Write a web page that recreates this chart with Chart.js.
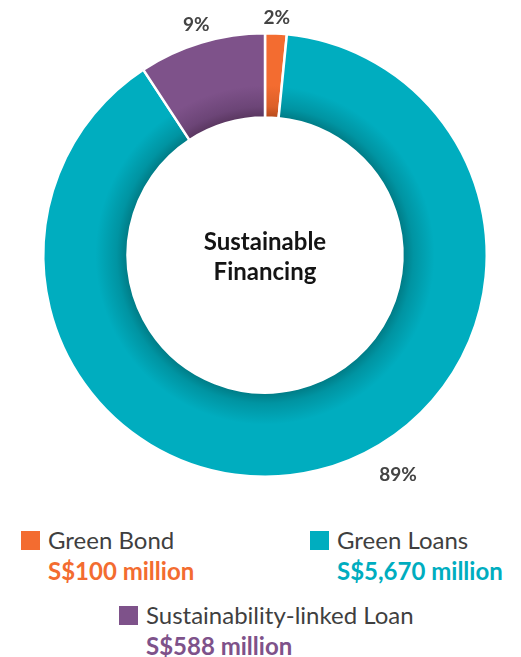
<!DOCTYPE html>
<html>
<head>
<meta charset="utf-8">
<script src="https://cdn.jsdelivr.net/npm/chart.js@4.4.0/dist/chart.umd.min.js"></script>
<style>
  body { margin: 0; background: #fff; font-family: Lato, 'Open Sans', sans-serif; }
  #wrap { position: relative; width: 521px; height: 657px; }
  #chart-box { position: absolute; left: 0; top: 0; width: 521px; height: 500px; }
  .leg { position: absolute; color: #3f3f3f; }
  .leg .sq { position: absolute; width: 19px; height: 19px; }
  .leg .name { position: absolute; white-space: nowrap; font-size: 24px; line-height: 28px; }
  .leg .val { position: absolute; white-space: nowrap; font-size: 24px; line-height: 28px; font-weight: 700; }
</style>
</head>
<body>
<div id="wrap">
  <div id="chart-box"><canvas id="chart"></canvas></div>
  <div id="legend"></div>
</div>
<script>
// Données
const categories = ['Green Bond', 'Green Loans', 'Sustainability-linked Loan'];
const amounts = [100, 5670, 588];           // S$ million
const amountLabels = ['S$100 million', 'S$5,670 million', 'S$588 million'];
const pctLabels = ['2%', '89%', '9%'];
const colors = ['#f36c30', '#00adbf', '#7e528a'];
const darkColors = ['#b5491b', '#007a84', '#59365f'];
const midColors = ['#dc5f28', '#0094a2', '#6c4577'];

// positions de la légende (x du carré, y du haut)
const legendPos = [[21, 531], [310, 531], [119, 606]];

// Dégradé radial (ombre intérieure)
function segColor(context) {
  const i = context.dataIndex;
  const chart = context.chart;
  const arc = chart.getDatasetMeta(0).data[i];
  if (!arc || !arc.outerRadius) return colors[i];
  const g = chart.ctx.createRadialGradient(arc.x, arc.y, arc.innerRadius, arc.x, arc.y, arc.outerRadius);
  g.addColorStop(0, darkColors[i]);
  g.addColorStop(0.13, midColors[i]);
  g.addColorStop(0.38, colors[i]);
  g.addColorStop(1, colors[i]);
  return g;
}

// Étiquettes de pourcentage + texte central
const labelPlugin = {
  id: 'labelPlugin',
  afterDatasetsDraw(chart, args, opts) {
    const ctx = chart.ctx;
    const meta = chart.getDatasetMeta(0);
    ctx.save();
    ctx.textAlign = 'center';
    ctx.textBaseline = 'middle';
    ctx.fillStyle = '#444';
    ctx.font = 'bold 19px Lato';
    meta.data.forEach((arc, i) => {
      let a = (arc.startAngle + arc.endAngle) / 2;
      if (opts.angles[i] != null) a = (opts.angles[i] - 90) * Math.PI / 180;
      const r = arc.outerRadius + opts.offsets[i];
      ctx.fillText(pctLabels[i], arc.x + Math.cos(a) * r, arc.y + Math.sin(a) * r);
    });
    const c = meta.data[0];
    ctx.textBaseline = 'alphabetic';
    ctx.fillStyle = '#141414';
    ctx.font = 'bold 24px Lato';
    ctx.fillText('Sustainable', c.x, c.y - 5);
    ctx.fillText('Financing', c.x, c.y + 25);
    ctx.restore();
  }
};

const chart = new Chart(document.getElementById('chart'), {
  type: 'doughnut',
  data: {
    labels: categories,
    datasets: [{
      data: amounts,
      backgroundColor: segColor,
      borderColor: '#ffffff',
      borderWidth: 2.5
    }]
  },
  options: {
    responsive: true,
    maintainAspectRatio: false,
    animation: false,
    cutout: '62%',
    layout: { padding: { left: 42, right: 33, top: 32, bottom: 22 } },
    plugins: {
      legend: { display: false },
      tooltip: { enabled: false },
      labelPlugin: { angles: [null, 148.8, null], offsets: [16, 35, 18] }
    }
  },
  plugins: [labelPlugin]
});
// 2e passage pour que les arcs aient leurs rayons (dégradé)
chart.update();

// Légende HTML
const legend = document.getElementById('legend');
categories.forEach((name, i) => {
  const [x, y] = legendPos[i];
  const el = document.createElement('div');
  el.className = 'leg';
  el.style.left = x + 'px';
  el.style.top = y + 'px';
  el.innerHTML =
    `<div class="sq" style="left:0;top:0;background:${colors[i]}"></div>` +
    `<div class="name" style="left:27px;top:-5px">${name}</div>` +
    `<div class="val" style="left:27px;top:26px;color:${colors[i]}">${amountLabels[i]}</div>`;
  legend.appendChild(el);
});
</script>
</body>
</html>
